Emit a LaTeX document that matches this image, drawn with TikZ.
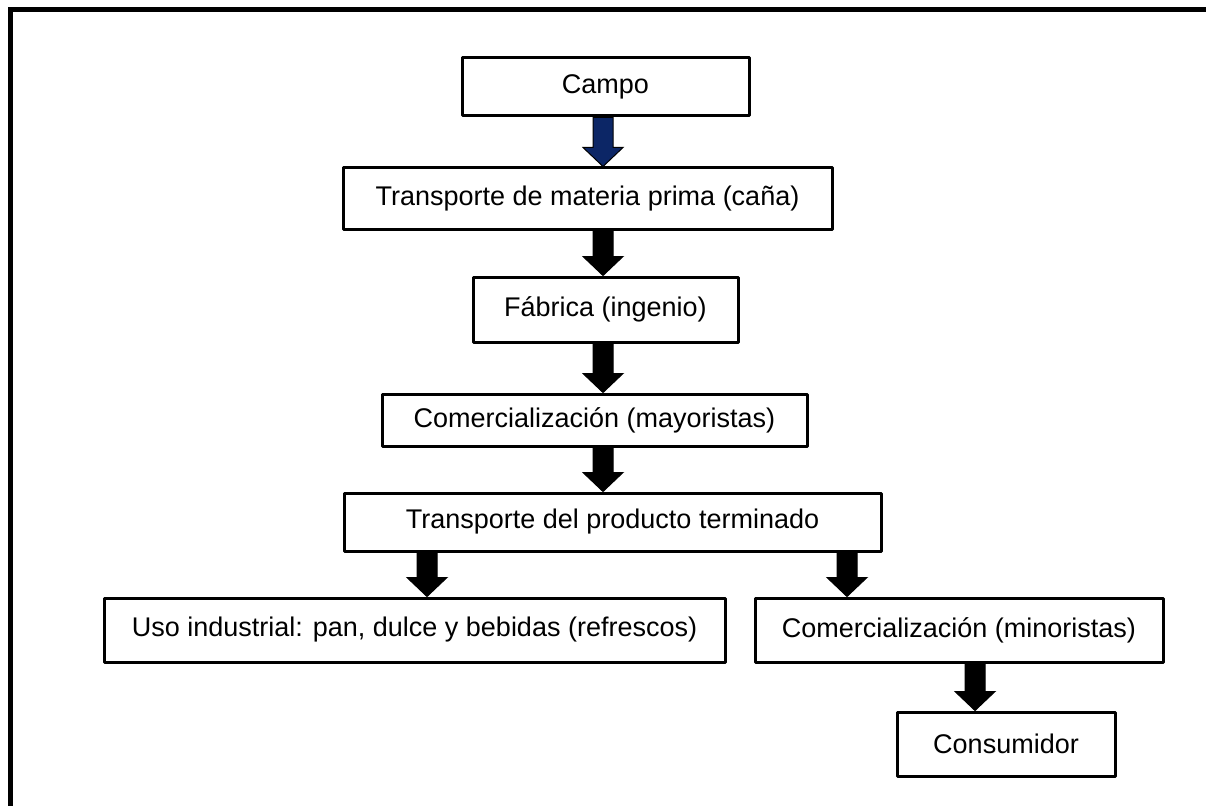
\documentclass[tikz,border=0pt]{standalone}
\usepackage{fontspec}
\setmainfont{Liberation Sans}
\usetikzlibrary{calc}
\definecolor{arrownavy}{RGB}{12,38,102}
\tikzset{
  stagebox/.style={draw=black, line width=3pt, line join=round, fill=white,
    inner sep=0pt, align=center, font=\fontsize{27}{32}\selectfont},
  fatarrowstyle/.style={draw=black, line width=1pt, line join=miter},
}
% block arrow: fill colour, x position, source node, target node
\newcommand\fatarrow[4]{%
  \coordinate (fa-s) at (#2,0 |- #3.south);
  \coordinate (fa-t) at (#2,0 |- #4.north);
  \filldraw[fatarrowstyle, fill=#1]
    ($(fa-s)+(-10,0)$) -- ($(fa-t)+(-10,-19)$) -- ($(fa-t)+(-20,-19)$) -- (fa-t)
    -- ($(fa-t)+(20,-19)$) -- ($(fa-t)+(10,-19)$) -- ($(fa-s)+(10,0)$) -- cycle;
}
\begin{document}
\begin{tikzpicture}[x=1pt,y=-1pt]
\useasboundingbox (0,0) rectangle (1206,805);
% outer frame (left and top sides)
\coordinate (fbl) at (10,810);
\coordinate (ftl) at (10,10);
\coordinate (ftr) at (1210,10);
\draw[line width=5pt] (fbl) -- (ftl) -- (ftr);

\node[stagebox, minimum width=287pt, minimum height=58pt] (campo) at (605.5,87) {Campo};
\node[stagebox, minimum width=489pt, minimum height=61pt] (transmp) at (587.5,198.5) {Transporte de materia prima (caña)};
\node[stagebox, minimum width=265pt, minimum height=65pt] (fabrica) at (605.5,309.5) {Fábrica (ingenio)};
\node[stagebox, minimum width=425pt, minimum height=52pt] (mayor) at (594.5,420) {Comercialización (mayoristas)};
\node[stagebox, minimum width=537pt, minimum height=58pt] (transpt) at (612.5,522) {Transporte del producto terminado};
\node[stagebox, minimum width=621pt, minimum height=64pt] (uso) at (414.5,630) {Uso industrial: pan, dulce y bebidas (refrescos)};
\node[stagebox, minimum width=408pt, minimum height=64pt] (minor) at (959,630) {Comercialización (minoristas)};
\node[stagebox, minimum width=218pt, minimum height=64pt] (consum) at (1006,744) {Consumidor};

\fatarrow{arrownavy}{603}{campo}{transmp}
\fatarrow{black}{603}{transmp}{fabrica}
\fatarrow{black}{603}{fabrica}{mayor}
\fatarrow{black}{603}{mayor}{transpt}
\fatarrow{black}{427}{transpt}{uso}
\fatarrow{black}{847}{transpt}{minor}
\fatarrow{black}{975}{minor}{consum}
\end{tikzpicture}
\end{document}
